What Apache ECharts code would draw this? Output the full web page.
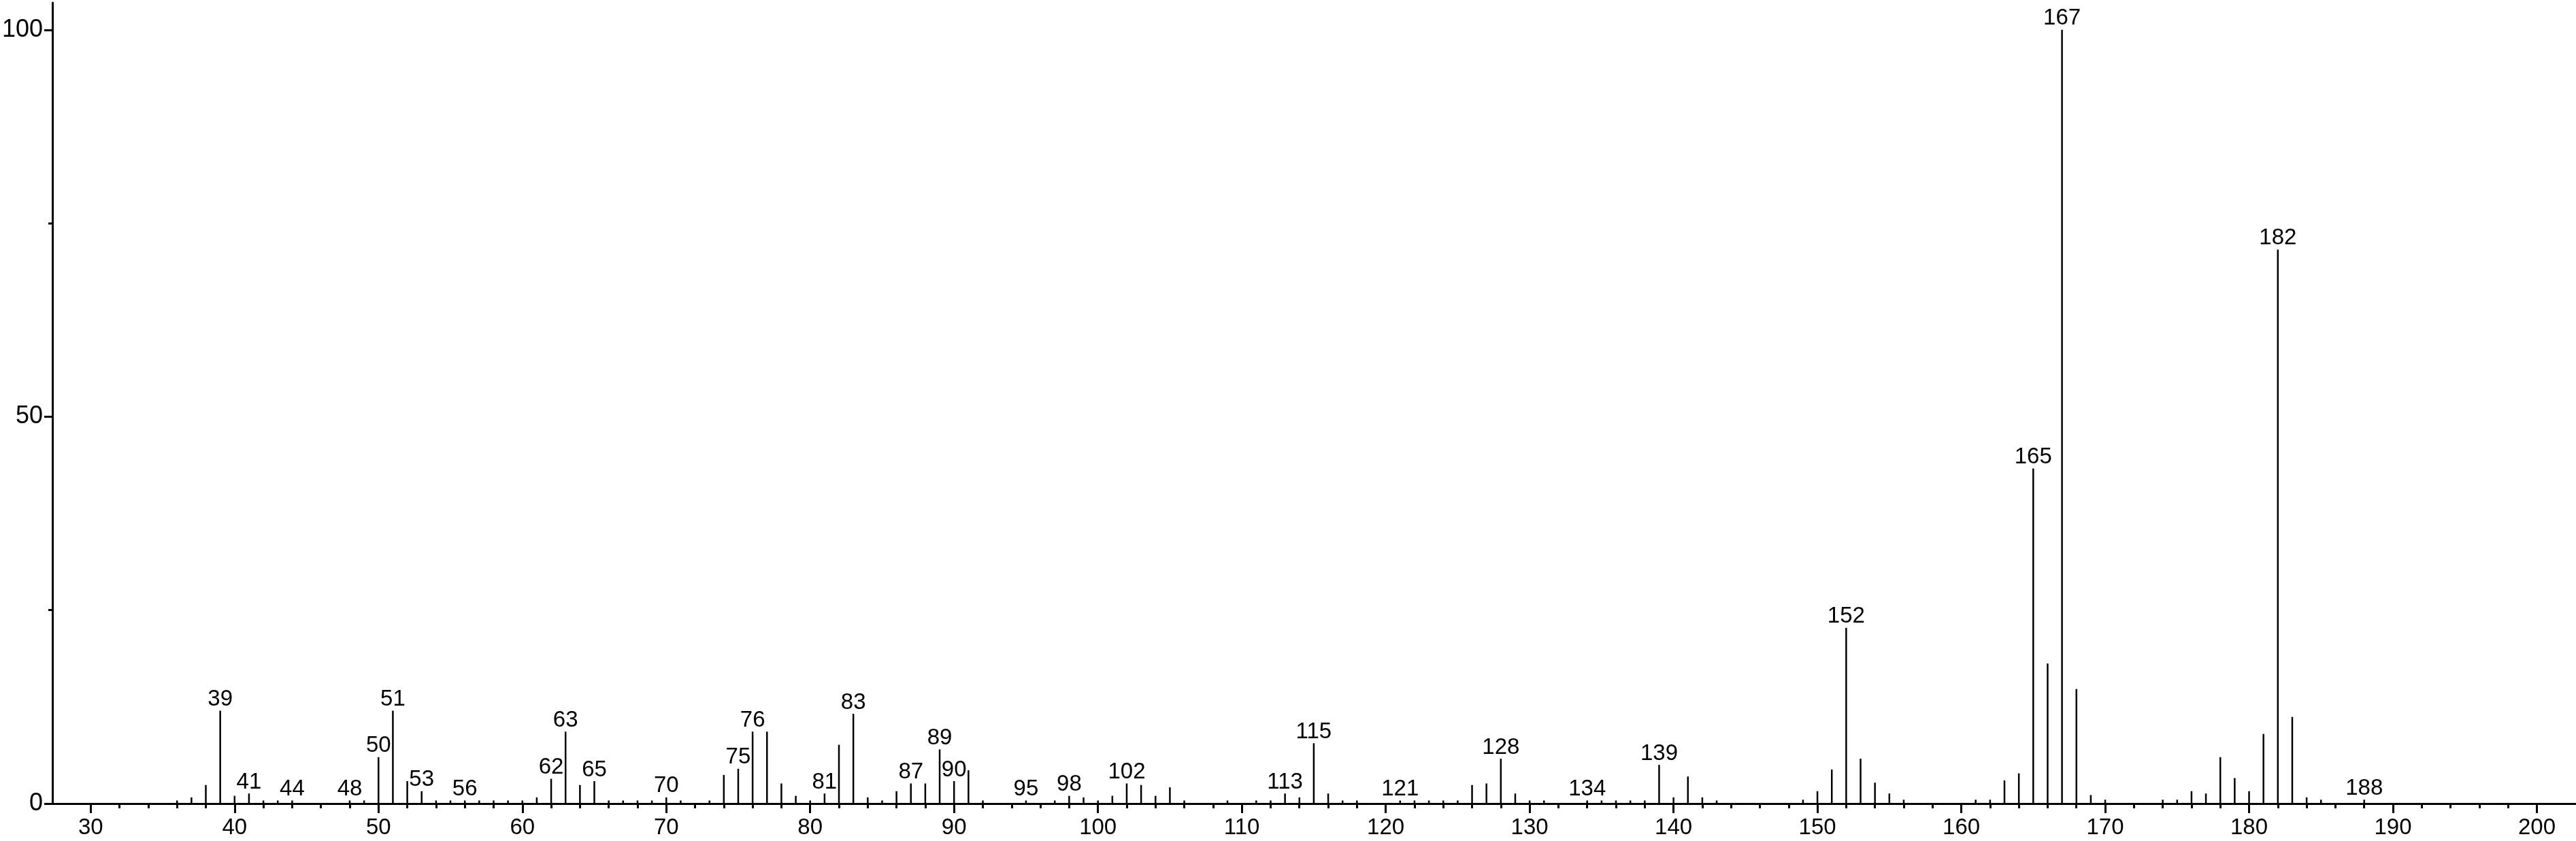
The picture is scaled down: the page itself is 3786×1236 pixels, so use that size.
<!DOCTYPE html>
<html>
<head>
<meta charset="utf-8">
<script src="https://cdn.jsdelivr.net/npm/echarts@6/dist/echarts.min.js"></script>
<style>
  html, body { margin: 0; padding: 0; background: #fff; }
  #main { width: 3786px; height: 1236px; }
</style>
</head>
<body>
<div id="main"></div>
<script>
// m/z values and relative intensities
var mz = [36, 37, 38, 39, 40, 41, 42, 43, 44, 48, 49, 50, 51, 52, 53, 54, 55, 56, 57, 58, 59, 60,
  61, 62, 63, 64, 65, 66, 67, 68, 69, 70, 71, 73, 74, 75, 76, 77, 78, 79, 80, 81, 82, 83, 84, 85,
  86, 87, 88, 89, 90, 91, 92, 95, 97, 98, 99, 100, 101, 102, 103, 104, 105, 106, 109, 111, 112,
  113, 114, 115, 116, 117, 118, 121, 122, 123, 124, 125, 126, 127, 128, 129, 130, 131, 134, 135,
  136, 137, 138, 139, 140, 141, 142, 143, 149, 150, 151, 152, 153, 154, 155, 156, 161, 162, 163,
  164, 165, 166, 167, 168, 169, 170, 174, 175, 176, 177, 178, 179, 180, 181, 182, 183, 184, 185, 188];
var intensity = [0.4, 0.8, 2.4, 12.0, 1.0, 1.3, 0.4, 0.4, 0.4, 0.4, 0.4, 6.0, 12.0, 2.9, 1.6, 0.4, 0.4, 0.4, 0.4, 0.4, 0.4, 0.4,
  0.8, 3.2, 9.3, 2.4, 2.9, 0.4, 0.4, 0.4, 0.4, 0.8, 0.4, 0.4, 3.7, 4.5, 9.3, 9.3, 2.6, 1.0, 0.4, 1.3, 7.6, 11.6, 0.8, 0.4,
  1.6, 2.6, 2.6, 7.0, 2.9, 4.3, 0.4, 0.4, 0.4, 1.0, 0.8, 0.4, 1.0, 2.6, 2.4, 1.0, 2.1, 0.4, 0.4, 0.4, 0.4,
  1.3, 0.8, 7.8, 1.3, 0.4, 0.4, 0.4, 0.4, 0.4, 0.4, 0.4, 2.4, 2.6, 5.8, 1.3, 0.4, 0.4, 0.4, 0.4,
  0.4, 0.4, 0.4, 5.0, 0.8, 3.5, 0.8, 0.4, 0.5, 1.6, 4.4, 22.7, 5.8, 2.7, 1.3, 0.5, 0.5, 0.5, 3.0,
  3.9, 43.3, 18.1, 100, 14.8, 1.1, 0.5, 0.5, 0.5, 1.6, 1.3, 6.0, 3.3, 1.6, 9.0, 71.6, 11.2, 0.8, 0.5, 0.5];
// peaks that carry their m/z as a label
var labelled = [39, 41, 44, 48, 50, 51, 53, 56, 62, 63, 65, 70, 75, 76, 81, 83, 87, 89, 90, 95, 98,
  102, 113, 115, 121, 128, 134, 139, 152, 165, 167, 182, 188];
// axis ticks
var xMajor = [30, 40, 50, 60, 70, 80, 90, 100, 110, 120, 130, 140, 150, 160, 170, 180, 190, 200];
var xMinor = [32, 34, 36, 38, 42, 44, 46, 48, 52, 54, 56, 58, 62, 64, 66, 68, 72, 74, 76, 78,
  82, 84, 86, 88, 92, 94, 96, 98, 102, 104, 106, 108, 112, 114, 116, 118, 122, 124, 126, 128,
  132, 134, 136, 138, 142, 144, 146, 148, 152, 154, 156, 158, 162, 164, 166, 168, 172, 174, 176, 178,
  182, 184, 186, 188, 192, 194, 196, 198];
var yMajor = [0, 50, 100];
var yMinor = [25, 75];

var myChart = echarts.init(document.getElementById('main'));
var font = '"Liberation Sans", Arial, sans-serif';

var data = [];
for (var i = 0; i < mz.length; i++) {
    data.push({
        value: [mz[i], intensity[i]],
        label: { show: labelled.indexOf(mz[i]) >= 0 }
    });
}

var xMin = 27.34, xMax = 202.72;
var yMax = 103.5;

var option = {
    animation: false,
    backgroundColor: '#fff',
    grid: {
        left: 69,
        right: 0,
        top: 4,
        bottom: 55
    },
    xAxis: [{
        type: 'value',
        min: xMin,
        max: xMax,
        splitLine: { show: false },
        axisLine: { lineStyle: { color: '#000', width: 3 } },
        axisTick: { customValues: xMajor, length: 14, lineStyle: { color: '#000', width: 3 } },
        axisLabel: {
            customValues: xMajor,
            margin: 19,
            color: '#000',
            fontSize: 33,
            fontFamily: font
        }
    }, {
        type: 'value',
        min: xMin,
        max: xMax,
        position: 'bottom',
        splitLine: { show: false },
        axisLine: { show: false },
        axisTick: { customValues: xMinor, length: 7, lineStyle: { color: '#000', width: 3 } },
        axisLabel: { show: false }
    }],
    yAxis: [{
        type: 'value',
        min: 0,
        max: yMax,
        splitLine: { show: false },
        axisLine: { show: true, lineStyle: { color: '#000', width: 3 } },
        axisTick: { show: true, customValues: yMajor, length: 12, lineStyle: { color: '#000', width: 3 } },
        axisLabel: {
            customValues: yMajor,
            margin: 14,
            color: '#000',
            fontSize: 36,
            fontFamily: '"Liberation Sans Narrow", ' + font
        }
    }, {
        type: 'value',
        min: 0,
        max: yMax,
        position: 'left',
        splitLine: { show: false },
        axisLine: { show: false },
        axisTick: { show: true, customValues: yMinor, length: 6, lineStyle: { color: '#000', width: 3 } },
        axisLabel: { show: false }
    }],
    series: [{
        type: 'bar',
        xAxisIndex: 0,
        yAxisIndex: 0,
        barWidth: 2.5,
        itemStyle: { color: '#000' },
        label: {
            position: 'top',
            distance: 0,
            color: '#000',
            fontSize: 33,
            fontFamily: font,
            formatter: function (p) { return p.value[0]; }
        },
        data: data
    }]
};

myChart.setOption(option);
</script>
</body>
</html>
